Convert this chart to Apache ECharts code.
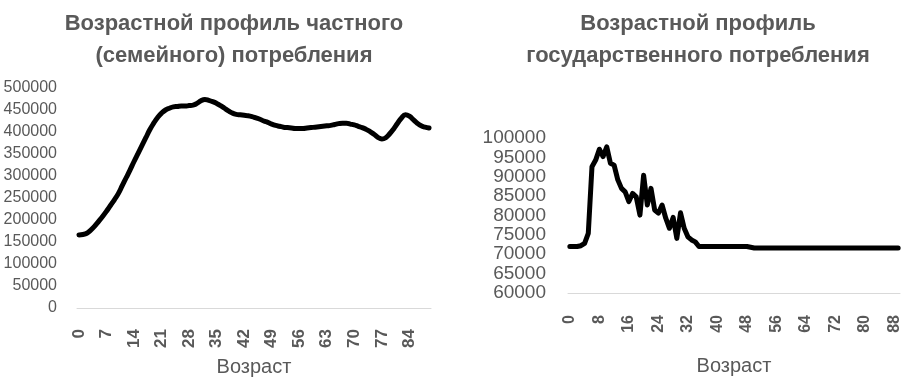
<!DOCTYPE html>
<html>
<head>
<meta charset="utf-8">
<script src="https://cdn.jsdelivr.net/npm/echarts@6/dist/echarts.min.js"></script>
<style>
    html, body {margin:0; padding:0; background:#fff;}
    #id_chart {width:903px; height:380px;}
</style>
</head>
<body>
<div id="id_chart"></div>
<script>
    //------------ возраст 0..89
    var ages = [];
    for (var i = 0; i < 90; i++) { ages.push(String(i)); }

    //------------ частное (семейное) потребление
    var privateCons = [
        166000, 167000, 170000, 177000, 186000, 197000, 208000, 220000, 233000, 246000,
        260000, 278000, 296000, 314000, 333000, 351000, 369000, 387000, 405000, 420000,
        433000, 443000, 450000, 454000, 457000, 458000, 459000, 459000, 460000, 461000,
        465000, 471000, 474000, 472000, 469000, 465000, 460000, 454000, 448000, 443000,
        440000, 439000, 438000, 437000, 435000, 432000, 429000, 425000, 422000, 418000,
        415000, 413000, 411000, 410000, 409000, 408000, 408000, 408000, 409000, 410000,
        411000, 412000, 413000, 414000, 415000, 417000, 419000, 420000, 420000, 418000,
        416000, 413000, 410000, 406000, 401000, 395000, 388000, 384000, 387000, 396000,
        407000, 420000, 432000, 439000, 436000, 428000, 420000, 414000, 411000, 409000
    ];

    //------------ государственное потребление
    var publicCons = [
        72000, 72000, 72000, 72200, 72800, 75400, 92600, 94300, 97100, 95200,
        97700, 93500, 93000, 89200, 87000, 86100, 83600, 85700, 84800, 80100,
        90400, 82700, 87000, 81400, 80600, 82700, 79300, 76700, 79500, 74100,
        80700, 76700, 74500, 73700, 73200, 72000, 72000, 72000, 72000, 72000,
        72000, 72000, 72000, 72000, 72000, 72000, 72000, 72000, 72000, 71800,
        71600, 71600, 71600, 71600, 71600, 71600, 71600, 71600, 71600, 71600,
        71600, 71600, 71600, 71600, 71600, 71600, 71600, 71600, 71600, 71600,
        71600, 71600, 71600, 71600, 71600, 71600, 71600, 71600, 71600, 71600,
        71600, 71600, 71600, 71600, 71600, 71600, 71600, 71600, 71600, 71600
    ];

    var grey = "#595959";
    var font = "Liberation Sans";

    var chart = echarts.init(document.getElementById("id_chart"));

    function plainNum(v) { return String(v); }

    function xAxisFor(gridIndex, every, fontSize, margin, nameGap) {
        return {
            type: "category",
            gridIndex: gridIndex,
            data: ages,
            boundaryGap: true,
            name: "Возраст",
            nameLocation: "middle",
            nameGap: nameGap,
            nameTextStyle: {color: grey, fontSize: 20, fontFamily: font},
            axisLine: {lineStyle: {color: "#d9d9d9", width: 1}},
            axisTick: {show: false},
            axisLabel: {
                interval: every - 1,
                rotate: 90,
                margin: margin,
                color: grey,
                fontWeight: "bold",
                fontSize: fontSize,
                fontFamily: font
            },
            splitLine: {show: false}
        };
    }

    function yAxisFor(gridIndex, min, max, step, fontSize, margin) {
        return {
            type: "value", gridIndex: gridIndex,
            min: min, max: max, interval: step,
            axisLine: {show: false}, axisTick: {show: false},
            splitLine: {show: false},
            axisLabel: {
                color: grey, fontSize: fontSize, fontFamily: font, margin: margin,
                formatter: plainNum, showMinLabel: true, showMaxLabel: true
            }
        };
    }

    var titleStyle = {color: grey, fontSize: 22, fontWeight: "bold", fontFamily: font, lineHeight: 32};

    var option = {
        animation: false,
        title: [
            {text: "Возрастной профиль частного\n(семейного) потребления", left: 229, top: 3, textAlign: "center", textStyle: titleStyle},
            {text: "Возрастной профиль\nгосударственного потребления", left: 693, top: 3, textAlign: "center", textStyle: titleStyle}
        ],
        grid: [
            {left: 77, top: 88, width: 354, height: 220, outerBoundsMode: "none", containLabel: false},
            {left: 568, top: 138, width: 332, height: 155, outerBoundsMode: "none", containLabel: false}
        ],
        xAxis: [
            xAxisFor(0, 7, 17, 21, 49),
            xAxisFor(1, 8, 16, 22, 63)
        ],
        yAxis: [
            yAxisFor(0, 0, 500000, 50000, 16, 20),
            yAxisFor(1, 60000, 100000, 5000, 19, 22)
        ],
        series: [
            {
                type: "line", xAxisIndex: 0, yAxisIndex: 0,
                data: privateCons, smooth: true, showSymbol: false,
                lineStyle: {color: "#000", width: 5, cap: "round", join: "round"}
            },
            {
                type: "line", xAxisIndex: 1, yAxisIndex: 1,
                data: publicCons, smooth: false, showSymbol: false,
                lineStyle: {color: "#000", width: 5, cap: "round", join: "round"}
            }
        ]
    };

    chart.setOption(option);
</script>
</body>
</html>
